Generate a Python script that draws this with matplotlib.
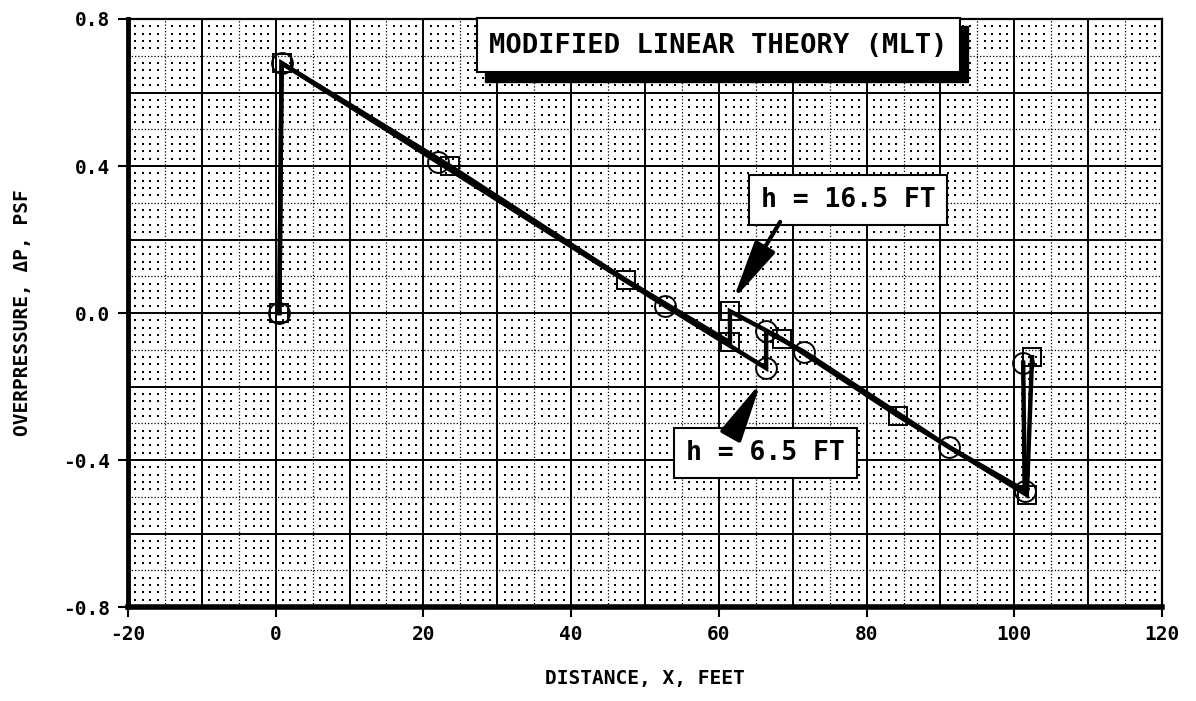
import matplotlib
matplotlib.use("Agg")
import matplotlib.pyplot as plt
from matplotlib.patches import Rectangle
import numpy as np

# h = 16.5 ft run (squares)
x_sq = [0.5, 0.8, 23.6, 47.4, 61.5, 61.5, 68.5, 84.3, 101.7, 102.4]
p_sq = [0.0, 0.68, 0.40, 0.09, -0.08, 0.005, -0.07, -0.28, -0.495, -0.12]
# h = 6.5 ft run (circles)
x_ci = [0.5, 0.8, 22.0, 52.7, 66.4, 66.4, 71.5, 91.2, 101.4, 101.2]
p_ci = [0.0, 0.68, 0.41, 0.02, -0.15, -0.05, -0.105, -0.365, -0.483, -0.135]

xticks = [-20, 0, 20, 40, 60, 80, 100, 120]
xtick_labels = ["-20", "0", "20", "40", "60", "80", "100", "120"]
yticks = [-0.8, -0.4, 0.0, 0.4, 0.8]
ytick_labels = ["-0.8", "-0.4", "0.0", "0.4", "0.8"]

title = "MODIFIED LINEAR THEORY (MLT)"
label_hi = "h = 16.5 FT"
label_lo = "h = 6.5 FT"

plt.rcParams["font.family"] = ["DejaVu Sans Mono", "DejaVu Sans"]
plt.rcParams["font.weight"] = "bold"

fig = plt.figure(figsize=(11.96, 7.01), dpi=100)
ax = fig.add_axes([0.107, 0.134, 0.8646, 0.8389])
ax.set_xlim(-20, 120)
ax.set_ylim(-0.8, 0.8)

# graph paper: dots, dotted half lines, solid major lines
gx, gy = np.meshgrid(np.arange(-20, 121, 1), np.round(np.arange(-0.8, 0.801, 0.02), 3))
keep = (np.mod(gx, 5) != 0) & (np.abs(np.round(gy * 10) - gy * 10) > 1e-6)
ax.scatter(gx[keep], gy[keep], s=1.8, c="black", marker="s", linewidths=0, zorder=1)
for v in np.arange(-15, 120, 10):
    ax.axvline(v, color="black", lw=0.9, ls=(0, (1, 1.6)), zorder=1.5)
for v in np.arange(-0.7, 0.8, 0.2):
    ax.axhline(v, color="black", lw=0.9, ls=(0, (1, 1.6)), zorder=1.5)
for v in np.arange(-10, 120, 10):
    ax.axvline(v, color="black", lw=1.4, zorder=1.6)
for v in np.arange(-0.6, 0.7, 0.2):
    ax.axhline(v, color="black", lw=1.4, zorder=1.6)

ax.plot(x_sq, p_sq, color="black", lw=3.2, marker="s", ms=13, mfc="none",
        mec="black", mew=1.4, zorder=3, solid_joinstyle="miter")
ax.plot(x_ci, p_ci, color="black", lw=3.2, marker="o", ms=15, mfc="none",
        mec="black", mew=1.4, zorder=3, solid_joinstyle="miter")

# title box with drop shadow
ax.add_patch(Rectangle((28.3, 0.629), 65.4, 0.152, facecolor="black",
                       edgecolor="black", zorder=5, clip_on=False))
ax.add_patch(Rectangle((27.25, 0.656), 65.35, 0.147, facecolor="white",
                       edgecolor="black", lw=1.5, zorder=6, clip_on=False))
ax.text(59.9, 0.727, title, ha="center", va="center", fontsize=19.5,
        fontweight="bold", zorder=7)

box = dict(boxstyle="square,pad=0.45", facecolor="white", edgecolor="black", lw=1.5)
ax.text(77.5, 0.307, label_hi, ha="center", va="center", fontsize=19,
        fontweight="bold", bbox=box, zorder=6)
ax.text(66.3, -0.381, label_lo, ha="center", va="center", fontsize=19,
        fontweight="bold", bbox=box, zorder=6)

arrow = dict(arrowstyle="-|>,head_length=2.6,head_width=0.5", color="black",
             lw=3, mutation_scale=14, shrinkA=0, shrinkB=0)
ax.annotate("", xy=(61.9, 0.035), xytext=(68.3, 0.248), arrowprops=arrow, zorder=6)
ax.annotate("", xy=(65.7, -0.188), xytext=(61.9, -0.324), arrowprops=arrow, zorder=6)

ax.set_xticks(xticks)
ax.set_xticklabels(xtick_labels)
ax.set_yticks(yticks)
ax.set_yticklabels(ytick_labels)
ax.tick_params(direction="out", length=7, width=1.5, labelsize=14, pad=6)
for lab in ax.get_xticklabels() + ax.get_yticklabels():
    lab.set_fontweight("bold")

ax.spines["left"].set_linewidth(3.5)
ax.spines["bottom"].set_linewidth(4)
ax.spines["top"].set_linewidth(1.6)
ax.spines["right"].set_linewidth(1.6)

ax.set_xlabel("DISTANCE, X, FEET", fontsize=14, fontweight="bold", labelpad=18)
ax.set_ylabel("OVERPRESSURE, ΔP, PSF", fontsize=14, fontweight="bold", labelpad=22)

fig.savefig("out.png", dpi=100)
